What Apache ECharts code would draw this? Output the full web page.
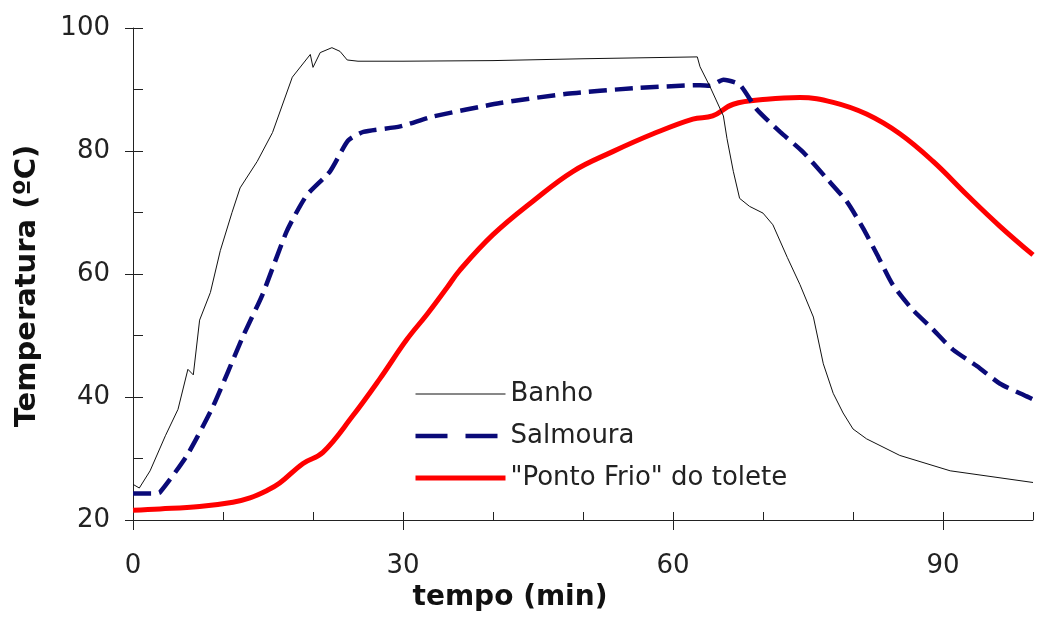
<!DOCTYPE html>
<html>
<head>
<meta charset="utf-8">
<script src="https://cdn.jsdelivr.net/npm/echarts@6/dist/echarts.min.js"></script>
<style>html,body{margin:0;padding:0;background:#fff}#c{width:1039px;height:617px}</style>
</head>
<body>
<div id="c"></div>
<script>
// ---- data (time in min, temperature in ºC) ----
const seriesNames = ['Banho', 'Salmoura', '"Ponto Frio" do tolete'];
const xTickLabels = [0, 30, 60, 90];
const yTickLabels = [20, 40, 60, 80, 100];

const banhoMin = [0, 0.7, 1.9, 3.6, 5.0, 6.1, 6.7, 7.4, 8.6, 9.7, 11.0, 11.9, 13.8, 15.5, 17.7, 19.7, 20.0, 20.8, 22.1, 23.0, 23.8, 25, 30, 40, 50, 62.7, 63.0, 64.1, 65.6, 66.0, 66.7, 67.4, 68.5, 70.0, 71.1, 72.7, 74.1, 75.6, 76.7, 77.8, 78.9, 80.0, 81.5, 85.2, 90.8, 100];
const banhoT   = [25.8, 25.2, 28.0, 33.7, 38.0, 44.5, 43.6, 52.5, 57.0, 63.8, 70.0, 74.0, 78.3, 83.0, 92.0, 95.7, 93.6, 96.0, 96.8, 96.2, 94.8, 94.6, 94.6, 94.7, 95.0, 95.3, 93.7, 90.5, 85.7, 82.0, 76.7, 72.3, 71.0, 69.9, 68.0, 62.7, 58.3, 53.0, 45.4, 40.6, 37.4, 34.8, 33.2, 30.5, 28.0, 26.1];

const salmouraMin = [0, 2.4, 3.0, 6.0, 8.9, 12.2, 14.4, 17.1, 19.3, 21.9, 23.9, 25.6, 29.7, 33.3, 40.8, 48.2, 55.6, 63.0, 64.1, 65.6, 67.4, 69.3, 71.9, 74.4, 77.1, 79.3, 81.1, 82.7, 84.4, 86.5, 88.8, 91.1, 93.8, 96.3, 99.3, 100];
const salmouraT   = [24.3, 24.3, 24.5, 30.5, 38.5, 49.8, 56.7, 67.0, 72.8, 76.7, 81.7, 83.1, 84.0, 85.6, 87.8, 89.3, 90.2, 90.7, 90.6, 91.6, 90.8, 86.8, 83.1, 79.9, 75.5, 71.8, 67.5, 63.1, 58.3, 54.4, 51.1, 47.7, 45.0, 42.2, 40.1, 39.6];

const pontoMin = [0, 3, 7.4, 11.1, 13, 14.9, 16.3, 18.9, 21.1, 24.4, 27.4, 30.4, 32.7, 34.9, 36.3, 40, 44.4, 48.9, 53.3, 57.8, 62.2, 64.4, 66.7, 70.4, 74.1, 77.8, 81.5, 85.2, 88.9, 92.7, 96.3, 100];
const pontoT   = [21.6, 21.8, 22.2, 22.9, 23.6, 24.8, 26.0, 29.2, 31.0, 36.9, 42.9, 49.3, 53.5, 57.8, 60.6, 66.4, 71.8, 76.7, 79.9, 82.8, 85.2, 85.7, 87.6, 88.4, 88.7, 87.9, 86.0, 82.8, 78.3, 72.8, 67.8, 63.1];

function pairs(xs, ys) { return xs.map((x, i) => [x, ys[i]]); }

const FONT = '"DejaVu Sans", Verdana, sans-serif';
const AXIS_COLOR = '#222';
const NAVY = '#0a0a78';
const RED = '#ff0000';

const chart = echarts.init(document.getElementById('c'), null, { renderer: 'canvas' });
chart.setOption({
  animation: false,
  backgroundColor: '#fff',
  grid: { left: 133, right: 6, top: 28, bottom: 92, containLabel: false },
  legend: {
    orient: 'vertical',
    left: 413,
    top: 380,
    padding: 0,
    itemWidth: 90,
    itemHeight: 14,
    itemGap: 14,
    itemStyle: { opacity: 0 },
    data: [
      { name: seriesNames[0], lineStyle: { color: '#111', width: 1 } },
      { name: seriesNames[1], lineStyle: { color: NAVY, width: 4.5, type: [32, 18] } },
      { name: seriesNames[2], lineStyle: { color: RED, width: 5 } }
    ],
    textStyle: { fontFamily: FONT, fontSize: 26, color: '#222', lineHeight: 28 }
  },
  xAxis: [
    {
      type: 'value', min: 0, max: 100, interval: 10,
      name: 'tempo (min)', nameLocation: 'middle', nameGap: 64,
      nameTextStyle: { fontFamily: FONT, fontSize: 28, fontWeight: 'bold', color: '#111', padding: [0, 146, 0, 0] },
      axisLine: { show: true, lineStyle: { color: AXIS_COLOR, width: 1 } },
      axisTick: { show: true, inside: true, length: 8, lineStyle: { color: AXIS_COLOR } },
      axisLabel: {
        margin: 33, fontFamily: FONT, fontSize: 26, color: '#222',
        showMaxLabel: true,
        formatter: v => (xTickLabels.indexOf(v) >= 0 ? String(v) : '')
      },
      splitLine: { show: false }
    },
    {
      type: 'value', min: 0, max: 100, interval: 30, position: 'bottom',
      axisLine: { show: false },
      axisTick: { show: true, inside: false, length: 10, customValues: xTickLabels, lineStyle: { color: AXIS_COLOR } },
      axisLabel: { show: false },
      splitLine: { show: false }
    }
  ],
  yAxis: [
    {
      type: 'value', min: 20, max: 100, interval: 10,
      name: 'Temperatura (ºC)', nameLocation: 'middle', nameGap: 91, nameRotate: 90,
      nameTextStyle: { fontFamily: FONT, fontSize: 29, fontWeight: 'bold', color: '#111', padding: [0, 24, 0, 0] },
      axisLine: { show: true, lineStyle: { color: AXIS_COLOR, width: 1 } },
      axisTick: { show: true, inside: true, length: 10, lineStyle: { color: AXIS_COLOR } },
      axisLabel: {
        margin: 23, fontFamily: FONT, fontSize: 26, color: '#222',
        formatter: v => (yTickLabels.indexOf(v) >= 0 ? String(v) : '')
      },
      splitLine: { show: false }
    },
    {
      type: 'value', min: 20, max: 100, interval: 20, position: 'left',
      axisLine: { show: false },
      axisTick: { show: true, inside: false, length: 8, lineStyle: { color: AXIS_COLOR } },
      axisLabel: { show: false },
      splitLine: { show: false }
    }
  ],
  series: [
    {
      name: seriesNames[0], type: 'line', showSymbol: false, symbol: 'none',
      data: pairs(banhoMin, banhoT),
      lineStyle: { color: '#111', width: 1 },
      itemStyle: { color: '#111' },
      z: 3
    },
    {
      name: seriesNames[1], type: 'line', showSymbol: false, symbol: 'none',
      data: pairs(salmouraMin, salmouraT),
      smooth: 0.2,
      lineStyle: { color: NAVY, width: 4.5, type: [18, 8] },
      itemStyle: { color: NAVY },
      z: 2
    },
    {
      name: seriesNames[2], type: 'line', showSymbol: false, symbol: 'none',
      data: pairs(pontoMin, pontoT),
      smooth: 0.4,
      lineStyle: { color: RED, width: 5 },
      itemStyle: { color: RED },
      z: 1
    }
  ]
});
</script>
</body>
</html>
